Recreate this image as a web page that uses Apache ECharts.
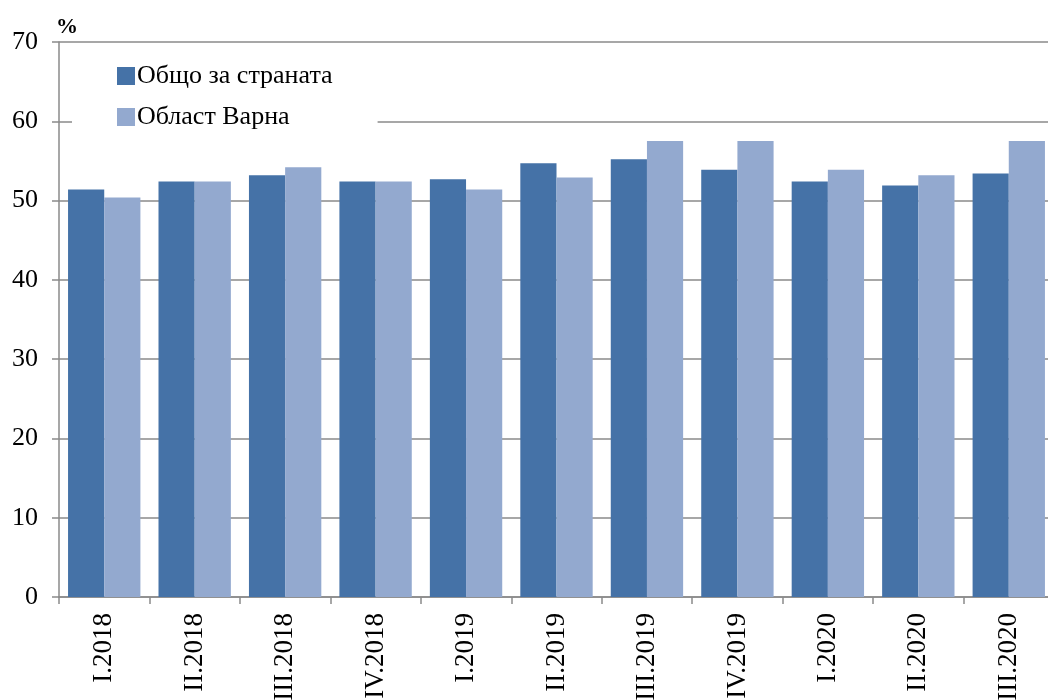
<!DOCTYPE html>
<html><head><meta charset="utf-8">
<script src="https://cdn.jsdelivr.net/npm/echarts@6/dist/echarts.min.js"></script>
<style>html,body{margin:0;padding:0;background:#fff}#c{width:1048px;height:700px}</style>
</head><body><div id="c"></div>
<script>
const categories = ['I.2018','II.2018','III.2018','IV.2018','I.2019','II.2019','III.2019','IV.2019','I.2020','II.2020','III.2020'];
const seriesNames = ['Общо за страната','Област Варна'];
const countryValues = [51.4, 52.4, 53.2, 52.4, 52.7, 54.7, 55.2, 53.9, 52.4, 51.9, 53.4];
const varnaValues = [50.4, 52.4, 54.2, 52.4, 51.4, 52.9, 57.5, 57.5, 53.9, 53.2, 57.5];
const yTicks = {min: 0, max: 70, interval: 10};

const font = 'Liberation Serif';
const chart = echarts.init(document.getElementById('c'), null, {renderer: 'canvas'});
chart.setOption({
  animation: false,
  backgroundColor: '#fff',
  grid: {left: 59, top: 42, bottom: 103, width: 995, containLabel: false, outerBoundsMode: 'none'},
  legend: {
    left: 72, top: 52, orient: 'vertical',
    backgroundColor: '#fff',
    padding: [11, 45, 12, 45],
    itemWidth: 18, itemHeight: 18, itemGap: 15,
    icon: 'rect',
    textStyle: {fontFamily: font, fontSize: 26, color: '#000', padding: [0, 0, 0, -3]},
    data: seriesNames
  },
  xAxis: {
    type: 'category', data: categories,
    axisLine: {lineStyle: {color: '#8a8a8a', width: 1.5}},
    axisTick: {show: true, length: 7, lineStyle: {color: '#8a8a8a', width: 1.5}},
    axisLabel: {rotate: 90, fontFamily: font, fontSize: 27, color: '#000', margin: 16, interval: 0}
  },
  yAxis: {
    type: 'value', min: yTicks.min, max: yTicks.max, interval: yTicks.interval,
    name: '%', nameLocation: 'end', nameGap: 4,
    nameTextStyle: {fontFamily: font, fontSize: 22, fontWeight: 'bold', color: '#000', align: 'left', padding: [0, 0, 0, -3]},
    axisLine: {show: true, lineStyle: {color: '#8a8a8a', width: 1.5}},
    axisTick: {show: true, length: 7, lineStyle: {color: '#8a8a8a', width: 1.5}},
    axisLabel: {fontFamily: font, fontSize: 26, color: '#000', margin: 21},
    splitLine: {show: true, lineStyle: {color: '#8a8a8a', width: 1.5}}
  },
  series: [
    {name: seriesNames[0], type: 'bar', data: countryValues, barGap: '0%', barCategoryGap: '20%',
     itemStyle: {color: '#4572A7'}},
    {name: seriesNames[1], type: 'bar', data: varnaValues,
     itemStyle: {color: '#93A9CF'}}
  ]
});
</script></body></html>
